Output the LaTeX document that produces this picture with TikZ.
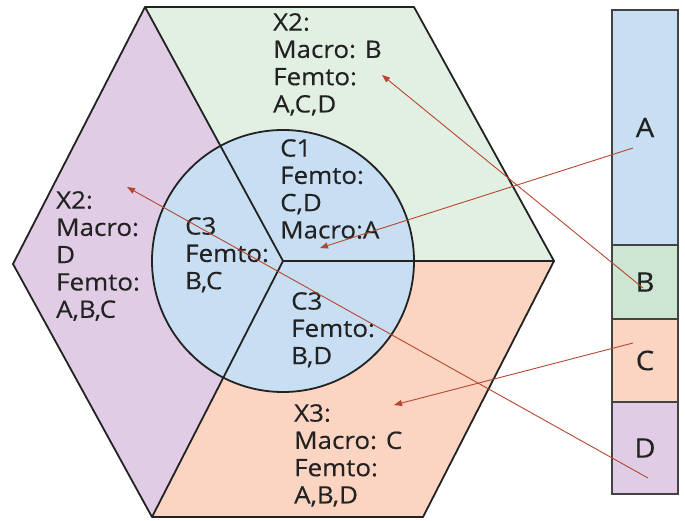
\documentclass[tikz,border=0pt]{standalone}
\usepackage{fontspec}
\setmainfont{Open Sans}[FakeStretch=1.08, FakeBold=0.35]
\usetikzlibrary{arrows.meta}

\definecolor{lilac}{HTML}{E1CCE5}
\definecolor{mint}{HTML}{E2F0E4}
\definecolor{peach}{HTML}{FCD4C2}
\definecolor{sky}{HTML}{C8DEF2}
\definecolor{sage}{HTML}{CDE6D3}
\definecolor{ink}{HTML}{222222}
\definecolor{rust}{HTML}{B5472E}

\begin{document}
\begin{tikzpicture}[x=1pt,y=-1pt,
    edge/.style={line width=1.8pt, draw=ink, line join=round},
    label/.style={font=\fontsize{24}{27.3}\selectfont, text=ink, align=left,
                  anchor=north west, inner sep=0pt},
    cell/.style={draw=ink!85, line width=1.8pt, minimum width=66pt,
                 font=\fontsize{27}{30}\selectfont, text=ink, inner sep=0pt},
    link/.style={draw=rust, line width=0.9pt,
                 -{Triangle[length=8pt,width=6pt]}}]
\useasboundingbox (0,0) rectangle (685,521);

% hexagon corners and centre
\coordinate (O)  at (283,261);
\coordinate (TL) at (145,7);
\coordinate (TR) at (414,7);
\coordinate (R)  at (554,261);
\coordinate (BR) at (423,517);
\coordinate (BL) at (152,517);
\coordinate (L)  at (13,264);

% three sectors
\fill[lilac] (TL) -- (O) -- (BL) -- (L) -- cycle;
\fill[mint]  (TL) -- (TR) -- (R) -- (O) -- cycle;
\fill[peach] (O) -- (R) -- (BR) -- (BL) -- cycle;

% inner cell
\filldraw[fill=sky, edge] (O) circle[radius=131pt];

% sector borders and outline
\draw[edge] (TL) -- (O) -- (R);
\draw[edge] (O) -- (BL);
\draw[edge] (L) -- (TL) -- (TR) -- (R) -- (BR) -- (BL) -- cycle;

% sector and cell labels
\node[label] (xg) at (273,13)  {X2:\\Macro: B\\Femto:\\A,C,D};
\node[label] (c1) at (280,139) {C1\\Femto:\\C,D\\Macro:A};
\node[label] (xp) at (56,191)  {X2:\\Macro:\\D\\Femto:\\A,B,C};
\node[label] (cl) at (185,217) {C3\\Femto:\\B,C};
\node[label] (cb) at (291,292) {C3\\Femto:\\B,D};
\node[label] (xo) at (294,404) {X3:\\Macro: C\\Femto:\\A,B,D};

% frequency bar
\node[cell, fill=sky,   minimum height=235pt] (A) at (645,127.5) {A};
\node[cell, fill=sage,  minimum height=74pt]  (B) at (645,282)   {B};
\node[cell, fill=peach, minimum height=83pt]  (C) at (645,360.5) {C};
\node[cell, fill=lilac, minimum height=92pt]  (D) at (645,448)   {D};

% arrow ends
\coordinate (aA) at (633,148);
\coordinate (aB) at (643,288);
\coordinate (aC) at (633,343);
\coordinate (aD) at (648,478);
\coordinate (tA) at (320,248);
\coordinate (tB) at (382,75);
\coordinate (tC) at (394,405);
\coordinate (tD) at (127,187);

\draw[link] (aA) -- (tA);
\draw[link] (aB) -- (tB);
\draw[link] (aC) -- (tC);
\draw[link] (aD) -- (tD);
\end{tikzpicture}
\end{document}
